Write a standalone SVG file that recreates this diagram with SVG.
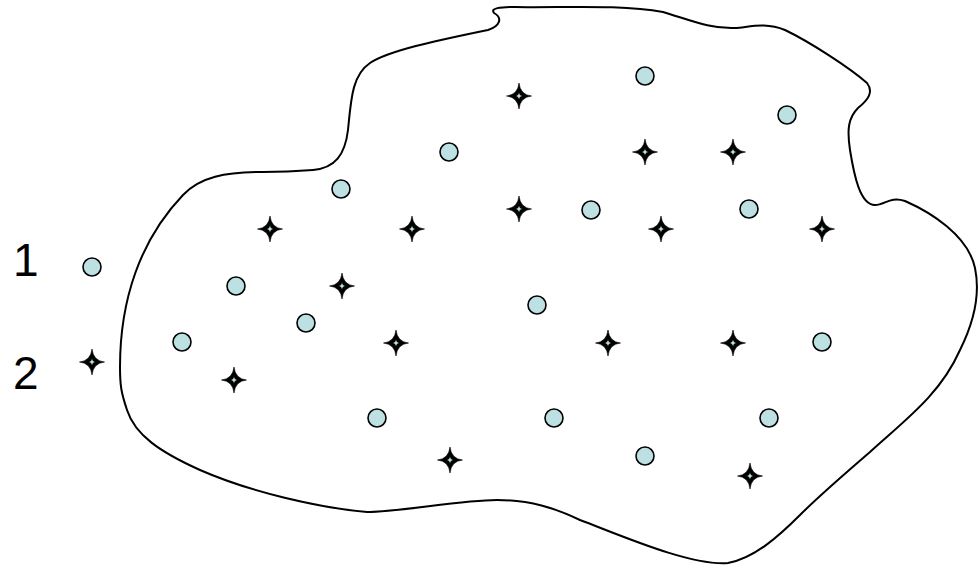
<svg xmlns="http://www.w3.org/2000/svg" width="980" height="569" viewBox="0 0 980 569">
<defs>
<style>
.blob{fill:none;stroke:#000;stroke-width:2;}
.dot{fill:#BDE0E3;stroke:#000;stroke-width:1.6;}
.star{fill:#000;stroke:#000;stroke-width:0.6;stroke-linejoin:miter;}
.core{fill:#BDE0E3;stroke:none;}
.lbl{font-family:"Liberation Sans",Arial,sans-serif;font-size:46px;fill:#000;}
</style>
<circle id="c" class="dot" r="9"/>
<g id="s">
<path class="star" d="M0,-13 Q1.2,-1.2 12.5,0 Q1.2,1.2 0,13 Q-1.2,1.2 -12.5,0 Q-1.2,-1.2 0,-13 Z"/>
<path class="core" d="M0,-3.5 Q0.3,-0.3 3.5,0 Q0.3,0.3 0,3.5 Q-0.3,0.3 -3.5,0 Q-0.3,-0.3 0,-3.5 Z"/>
</g>
</defs>
<rect width="980" height="569" fill="#fff"/>
<g id="region">
<path class="blob" d="M120,367 C120,300 140,240 183,195 C200,177 225,172 263,172 C285,172 300,171 313,170 C335,168 345,155 348,130 C351,100 352,75 370,63 C390,50 440,40 488,30 C500,26 503,18 494,13 C490,8 500,7 515,7 C560,8 620,4 663,12 C690,20 710,29 735,28 C750,27 765,22 785,30 C810,42 850,68 867,83 C874,92 868,100 858,108 C848,118 847,130 850,150 C854,175 860,205 875,205 C885,205 890,196 905,201 C930,212 968,235 975,268 C980,292 975,320 960,350 C940,395 905,420 870,452 C840,478 820,495 800,515 C780,535 755,558 728,563 C690,566 620,535 580,520 C555,508 530,500 497,500 C460,500 400,512 367,512 C320,508 250,492 200,470 C160,452 135,435 127,410 C121,392 120,385 120,367 Z"/>
</g>
<g id="labels">
<text class="lbl" x="13" y="276">1</text>
<text class="lbl" x="13" y="389">2</text>
</g>
<g id="circles">
<use id="c0" href="#c" x="92" y="267"/>
<use id="c1" href="#c" x="645" y="76"/>
<use id="c2" href="#c" x="787" y="115"/>
<use id="c3" href="#c" x="449" y="152"/>
<use id="c4" href="#c" x="341" y="189"/>
<use id="c5" href="#c" x="591" y="210"/>
<use id="c6" href="#c" x="749" y="209"/>
<use id="c7" href="#c" x="236" y="286"/>
<use id="c8" href="#c" x="537" y="305"/>
<use id="c9" href="#c" x="306" y="323"/>
<use id="c10" href="#c" x="182" y="342"/>
<use id="c11" href="#c" x="822" y="342"/>
<use id="c12" href="#c" x="377" y="418"/>
<use id="c13" href="#c" x="554" y="418"/>
<use id="c14" href="#c" x="769" y="418"/>
<use id="c15" href="#c" x="645" y="456"/>
</g>
<g id="stars">
<use id="s0" href="#s" x="92" y="362"/>
<use id="s1" href="#s" x="519" y="96"/>
<use id="s2" href="#s" x="645" y="152"/>
<use id="s3" href="#s" x="733" y="152"/>
<use id="s4" href="#s" x="270" y="229"/>
<use id="s5" href="#s" x="412" y="229"/>
<use id="s6" href="#s" x="519" y="209"/>
<use id="s7" href="#s" x="661" y="229"/>
<use id="s8" href="#s" x="822" y="229"/>
<use id="s9" href="#s" x="342" y="286"/>
<use id="s10" href="#s" x="396" y="343"/>
<use id="s11" href="#s" x="608" y="343"/>
<use id="s12" href="#s" x="733" y="343"/>
<use id="s13" href="#s" x="234" y="380"/>
<use id="s14" href="#s" x="450" y="460"/>
<use id="s15" href="#s" x="750" y="476"/>
</g>
</svg>
